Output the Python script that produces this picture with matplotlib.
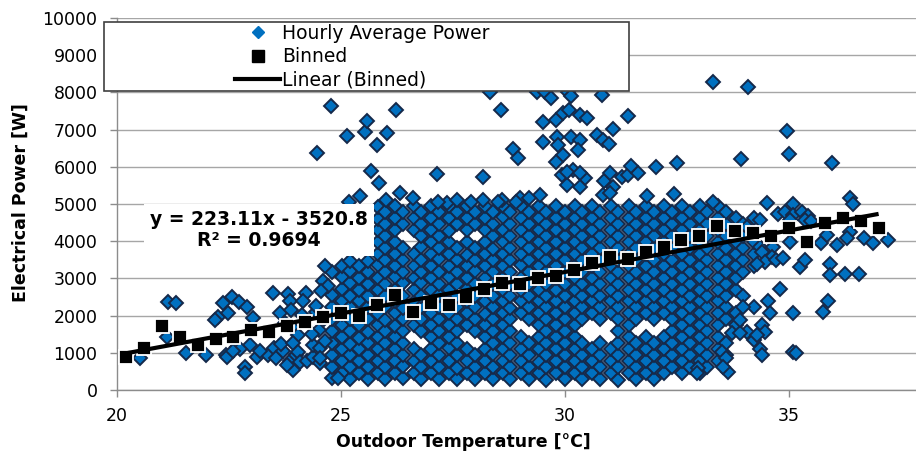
import matplotlib
matplotlib.use('Agg')
import matplotlib.pyplot as plt
from matplotlib.lines import Line2D
from matplotlib.patches import Rectangle
import numpy as np

# Datos
# Binned: promedio por intervalos de 0.4 C
bin_temp = [20.2, 20.6, 21.0, 21.4, 21.8, 22.2, 22.6, 23.0, 23.4, 23.8, 24.2,
            24.6, 25.0, 25.4, 25.8, 26.2, 26.6, 27.0, 27.4, 27.8, 28.2, 28.6,
            29.0, 29.4, 29.8, 30.2, 30.6, 31.0, 31.4, 31.8, 32.2, 32.6, 33.0,
            33.4, 33.8, 34.2, 34.6, 35.0, 35.4, 35.8, 36.2, 36.6, 37.0]
bin_power = [890, 1130, 1720, 1430, 1210, 1370, 1430, 1610, 1560, 1720, 1830,
             1960, 2060, 1990, 2280, 2550, 2100, 2340, 2280, 2500, 2710, 2870,
             2850, 3010, 3060, 3230, 3410, 3580, 3520, 3710, 3840, 4030, 4140,
             4410, 4270, 4220, 4140, 4350, 3980, 4490, 4620, 4540, 4350]

# Linea de tendencia (Excel)
trend_slope = 223.11
trend_intercept = -3520.8
trend_range = [20.1, 37.0]

# Nube densa de potencia horaria, por columnas de temperatura
body_temp = [24.8, 25.02, 25.19, 25.41, 25.6, 25.82, 25.99, 26.21, 26.38, 26.62,
             26.79, 27.02, 27.18, 27.41, 27.59, 27.82, 27.98, 28.22, 28.39,
             28.61, 28.78, 29.02, 29.19, 29.41, 29.58, 29.81, 29.99, 30.22,
             30.39, 30.61, 30.78, 31.02, 31.19, 31.42, 31.58, 31.81, 31.99,
             32.22, 32.38, 32.61, 32.79, 33.02, 33.18, 33.41, 33.59, 33.82,
             33.98, 34.21]
body_power = [
    [330, 610, 950, 1270, 1590, 1910, 2230, 2560, 3170],
    [450, 790, 1090, 1430, 1750, 2050, 2390, 2710, 3030, 3330],
    [300, 620, 950, 1250, 1580, 1910, 2220, 2530, 2870, 3190, 3470],
    [470, 770, 1100, 1410, 1740, 2070, 2380, 2690, 3020, 3340],
    [300, 630, 940, 1260, 1570, 1900, 2230, 2540, 2860, 3180, 3480],
    [460, 780, 1110, 1420, 1740, 2050, 2380, 2700, 3020, 3350, 3660, 3990, 4300, 4610, 4930],
    [290, 620, 940, 1270, 1580, 1890, 2220, 2540, 2860, 3180, 3500, 3810, 4140, 4460, 4790],
    [460, 790, 1100, 1420, 1730, 2060, 2380, 2700, 3030, 3340, 3660, 3980, 4300, 4620, 4940],
    [310, 650, 940, 1260, 1580, 1900, 2210, 2540, 2880, 3180, 3500, 3820, 4460, 4780],
    [450, 780, 1100, 1740, 2060, 2360, 2690, 3020, 3340, 3660, 4300, 4620, 4940],
    [300, 620, 940, 1580, 1900, 2240, 2540, 2870, 3180, 3500, 3840, 4140, 4460, 4780],
    [460, 780, 1100, 1420, 1760, 2060, 2370, 2700, 3020, 3340, 3660, 3980, 4300, 4620, 4950],
    [300, 620, 950, 1260, 1580, 1900, 2220, 2560, 2860, 3180, 3520, 3820, 4140, 4460, 4780],
    [460, 780, 1120, 1420, 1740, 2060, 2380, 2700, 3040, 3340, 3660, 3980, 4280, 4620, 4940],
    [300, 600, 940, 1260, 1580, 1920, 2220, 2540, 2860, 3180, 3500, 3820, 4460, 4780],
    [460, 780, 1100, 1740, 2060, 2380, 2720, 3020, 3340, 3640, 3980, 4300, 4620, 4940],
    [300, 620, 940, 1580, 1900, 2220, 2540, 2860, 3200, 3500, 3820, 4460, 4780],
    [460, 790, 1100, 1420, 1740, 2040, 2380, 2700, 3020, 3340, 3660, 3980, 4300, 4620, 4940],
    [300, 620, 960, 1260, 1580, 1900, 2220, 2540, 2860, 3180, 3500, 3800, 4140, 4460, 4780],
    [460, 780, 1100, 1420, 1740, 2060, 2380, 2680, 3020, 3340, 3660, 3980, 4300, 4640, 4940],
    [300, 620, 940, 1260, 1580, 1900, 2200, 2540, 2860, 3180, 3500, 3820, 4140, 4460, 4780],
    [460, 780, 1100, 1420, 2060, 2380, 2700, 3020, 3360, 3660, 3980, 4300, 4620, 4940],
    [300, 620, 940, 1260, 1900, 2220, 2540, 2860, 3180, 3500, 3820, 4140, 4460, 4780],
    [460, 760, 1100, 1420, 1740, 2060, 2380, 2700, 3020, 3340, 3660, 3980, 4300, 4620, 4940],
    [280, 620, 940, 1260, 1580, 1900, 2220, 2540, 2860, 3180, 3500, 3820, 4140, 4460, 4780],
    [460, 780, 1100, 1420, 1740, 2060, 2380, 2700, 3020, 3340, 3660, 3980, 4300, 4620, 4940],
    [300, 620, 940, 1260, 1580, 1900, 2220, 2540, 2860, 3180, 3500, 3820, 4140, 4460, 4780],
    [460, 780, 1100, 1420, 1740, 2060, 2380, 2700, 3020, 3340, 3660, 3980, 4300, 4620, 4940],
    [300, 620, 940, 1260, 1900, 2220, 2540, 2860, 3180, 3500, 3820, 4140, 4460, 4780],
    [460, 780, 1100, 2060, 2380, 2700, 3020, 3340, 3660, 3980, 4300, 4620, 4940],
    [300, 620, 940, 1260, 1900, 2220, 2540, 2860, 3180, 3500, 3820, 4140, 4460, 4780],
    [460, 780, 1100, 2060, 2380, 2700, 3020, 3340, 3660, 3980, 4300, 4620, 4940],
    [270, 620, 940, 1260, 1580, 1900, 2220, 2540, 2860, 3180, 3500, 3820, 4140, 4460, 4780],
    [460, 780, 1100, 1420, 1740, 2060, 2380, 2700, 3020, 3340, 3660, 3980, 4300, 4620, 4940],
    [300, 620, 940, 1260, 1900, 2220, 2540, 2860, 3180, 3500, 3820, 4140, 4460, 4780],
    [460, 780, 1100, 1420, 2060, 2380, 2700, 3020, 3340, 3660, 3980, 4300, 4620, 4940],
    [300, 620, 940, 1260, 1900, 2220, 2540, 2860, 3180, 3500, 3820, 4140, 4460, 4780],
    [460, 780, 1100, 1420, 2060, 2380, 2700, 3020, 3340, 3660, 3980, 4300, 4620, 4940],
    [620, 940, 1260, 1580, 1900, 2220, 2540, 2860, 3180, 3500, 3820, 4140, 4460, 4780],
    [460, 780, 1100, 1420, 1740, 2060, 2380, 2700, 3020, 3340, 3660, 3980, 4300, 4620, 4940],
    [620, 940, 1260, 1580, 1900, 2220, 2540, 2860, 3180, 3500, 3820, 4140, 4460, 4780],
    [460, 780, 1100, 1420, 1740, 2060, 2380, 2700, 3020, 3340, 3660, 3980, 4300, 4620, 4940],
    [620, 940, 1260, 1580, 1900, 2220, 2540, 2860, 3180, 3500, 3820, 4140, 4460, 4780],
    [780, 1100, 1420, 1740, 2060, 2380, 2700, 3020, 3340, 3660, 3980, 4300, 4620, 4940],
    [940, 1260, 1900, 2220, 2540, 2860, 3180, 3500, 3820, 4140, 4460, 4780],
    [1740, 2060, 2700, 3020, 3340, 3660, 3980, 4300, 4620],
    [2540, 3180, 3500, 3820, 4140, 4460],
    [3340, 3660, 3980, 4620],
]

# Puntos sueltos (izquierda, derecha y valores altos)
extra_points = [
    (20.51, 860), (21.14, 2375), (21.32, 2330), (21.12, 1420), (21.53, 1000),
    (21.99, 930), (22.43, 930), (22.56, 2510), (22.37, 2330), (22.72, 2370),
    (22.25, 1970), (22.9, 2240), (22.19, 1880), (22.48, 2080), (23.04, 1930),
    (22.67, 1160), (22.97, 1210), (22.75, 1110), (23.12, 900), (23.37, 940),
    (22.45, 900), (22.6, 1040), (23.2, 1040), (23.5, 1130), (23.56, 860),
    (23.7, 1040), (23.86, 780), (24.0, 940), (22.86, 630), (22.86, 450),
    (23.48, 2620), (23.82, 2580), (23.86, 2400), (24.22, 2600), (24.15, 2390),
    (23.64, 2060), (23.88, 2160), (24.12, 2020), (23.67, 1250), (23.93, 1670),
    (24.05, 1490), (23.93, 1260), (23.75, 1800), (24.04, 1030), (24.08, 760),
    (23.93, 540), (24.23, 780), (23.79, 680), (24.38, 900), (24.53, 720),
    (24.38, 1220), (24.53, 1130), (24.65, 1320), (24.53, 860), (24.64, 3330),
    (24.6, 2930), (24.71, 2800), (24.93, 320), (24.45, 2100), (24.5, 1600),
    (24.62, 1900), (24.35, 1500), (24.55, 2650), (24.45, 2250),
    (24.46, 6370), (24.78, 7630), (25.13, 6830), (25.54, 6940), (25.57, 7240),
    (25.8, 6590), (26.02, 6900), (26.23, 7530), (25.66, 5900), (25.85, 5560),
    (26.32, 5290), (25.42, 5220), (25.18, 5060), (27.15, 5810), (28.16, 5730),
    (28.33, 8020), (28.58, 7540), (28.85, 6480), (28.94, 6230), (29.38, 8020),
    (29.56, 8020), (29.69, 7840), (30.06, 8020), (30.14, 7890), (30.83, 7920),
    (29.5, 7200), (29.8, 7260), (29.96, 7450), (30.1, 7530), (30.33, 7390),
    (30.5, 7310), (31.41, 7370), (33.3, 8290), (34.08, 8150), (31.07, 7010),
    (29.5, 6680), (29.82, 6800), (29.84, 6590), (29.96, 6330), (29.8, 6130),
    (30.14, 6800), (30.34, 6720), (30.3, 6450), (30.72, 6850), (30.84, 6720),
    (30.98, 6610), (29.93, 5780), (30.04, 5520), (30.18, 5910), (30.45, 5700),
    (30.33, 5460), (30.86, 5620), (31.0, 5840), (31.07, 5460), (31.27, 5720),
    (31.4, 5780), (31.64, 5830), (31.47, 6020), (32.04, 6000), (32.5, 6110),
    (30.04, 5870), (30.33, 5820), (29.45, 5240), (29.0, 5160), (28.17, 5100),
    (27.9, 5060), (27.37, 5020), (27.17, 5060), (30.85, 5240), (31.0, 5290),
    (31.82, 5210), (32.43, 5260), (33.3, 5060), (34.96, 6950), (35.0, 6340),
    (33.93, 6210), (35.97, 6110), (26.0, 5100), (26.6, 5150), (27.6, 5120),
    (28.6, 5100), (29.2, 5150), (28.5, 5050), (28.9, 5060),
    (34.5, 5030), (35.1, 5000), (36.36, 5160), (36.42, 4990), (34.76, 4720),
    (34.91, 4780), (35.1, 4700), (35.28, 4780), (35.43, 4690), (35.36, 4570),
    (35.5, 4530), (35.02, 4570), (34.36, 4570), (34.06, 4390), (34.36, 3850),
    (34.39, 3720), (34.65, 3850), (34.61, 3580), (34.47, 3450), (34.28, 3400),
    (34.72, 3490), (34.87, 3540), (35.03, 3980), (35.25, 3310), (35.36, 3490),
    (35.72, 3940), (35.84, 4170), (36.36, 4250), (36.29, 4080), (36.08, 3900),
    (36.68, 4080), (36.87, 3940), (37.2, 4030), (35.92, 3400), (35.92, 3090),
    (36.25, 3130), (36.57, 3130), (34.8, 2720), (34.54, 2380), (34.58, 2060),
    (34.21, 2240), (33.98, 2240), (35.08, 2080), (35.88, 2380), (35.76, 2110),
    (34.39, 1750), (34.47, 1570), (34.06, 1560), (34.21, 1340), (34.36, 1090),
    (34.39, 940), (34.28, 1480), (35.1, 1030), (35.16, 1000), (33.72, 1530),
    (33.9, 1530), (33.5, 1030), (33.6, 860), (33.64, 490), (33.53, 630),
    (32.97, 590), (32.94, 450), (33.91, 1880),
]

# Construir la serie completa de puntos horarios
hourly_temp = []
hourly_power = []
for t, col in zip(body_temp, body_power):
    hourly_temp += [t] * len(col)
    hourly_power += col
hourly_temp += [p[0] for p in extra_points]
hourly_power += [p[1] for p in extra_points]

plt.rcParams['font.family'] = ['DejaVu Sans']

fig = plt.figure(figsize=(9.16, 4.58), dpi=100)
ax = fig.add_axes([117 / 916, 68 / 458, 799 / 916, 372 / 458])

azul = '#0070C0'
borde = '#15294A'

ax.plot(hourly_temp, hourly_power, 'D', ms=7.2, mfc=azul, mec=borde, mew=1.4,
        ls='none', zorder=2)
ax.plot(bin_temp, bin_power, 's', ms=9.5, mfc='black', mec='white', mew=1.3,
        ls='none', zorder=3)
tx = np.array(trend_range)
ax.plot(tx, trend_slope * tx + trend_intercept, color='black', lw=3,
        zorder=4, solid_capstyle='butt')

ax.set_xlim(20, 20 + 799 / 44.8)
ax.set_ylim(0, 10000)
ax.set_xticks([20, 25, 30, 35])
ax.set_yticks(range(0, 10001, 1000))
ax.yaxis.grid(True, color='#A6A6A6', lw=1.0)
ax.set_axisbelow(True)
for s in ['top', 'right']:
    ax.spines[s].set_visible(False)
for s in ['left', 'bottom']:
    ax.spines[s].set_color('#8C8C8C')
    ax.spines[s].set_linewidth(1.0)
ax.tick_params(axis='both', direction='out', length=5, width=1,
               color='#8C8C8C', labelsize=12.5, labelcolor='black')
ax.tick_params(axis='y', pad=9)
ax.tick_params(axis='x', pad=7)

fig.text(21 / 916, 1 - 203 / 458, 'Electrical Power [W]', rotation=90,
         ha='center', va='center', fontsize=12.5, fontweight='bold')
fig.text(463 / 916, 1 - 442 / 458, 'Outdoor Temperature [\u00b0C]',
         ha='center', va='center', fontsize=12.5, fontweight='bold')

# Ecuacion de la tendencia
fig.text(259 / 916, 1 - 230 / 458, 'y = 223.11x - 3520.8\nR\u00b2 = 0.9694',
         ha='center', va='center', fontsize=13.5, fontweight='bold',
         linespacing=1.15, zorder=6,
         bbox=dict(boxstyle='square,pad=0.3', fc='white', ec='none'))

# Leyenda con marco estilo Excel
marco = Rectangle((104 / 916, 1 - 91 / 458), 525 / 916, 69 / 458,
                  transform=fig.transFigure, fc='white', ec='#404040',
                  lw=1.2, zorder=1)
fig.patches.append(marco)
handles = [
    Line2D([], [], marker='D', ls='none', ms=6, mfc=azul, mec=azul),
    Line2D([], [], marker='s', ls='none', ms=8, mfc='black', mec='black'),
    Line2D([], [], color='black', lw=3),
]
labels = ['Hourly Average Power', 'Binned', 'Linear (Binned)']
fig.legend(handles, labels, loc='upper left',
           bbox_to_anchor=(235 / 916, 1 - 24 / 458), frameon=False,
           fontsize=13.5, handlelength=2.4, handletextpad=0.12,
           borderpad=0, borderaxespad=0, labelspacing=0.22)

plt.savefig('out.png', dpi=100)
